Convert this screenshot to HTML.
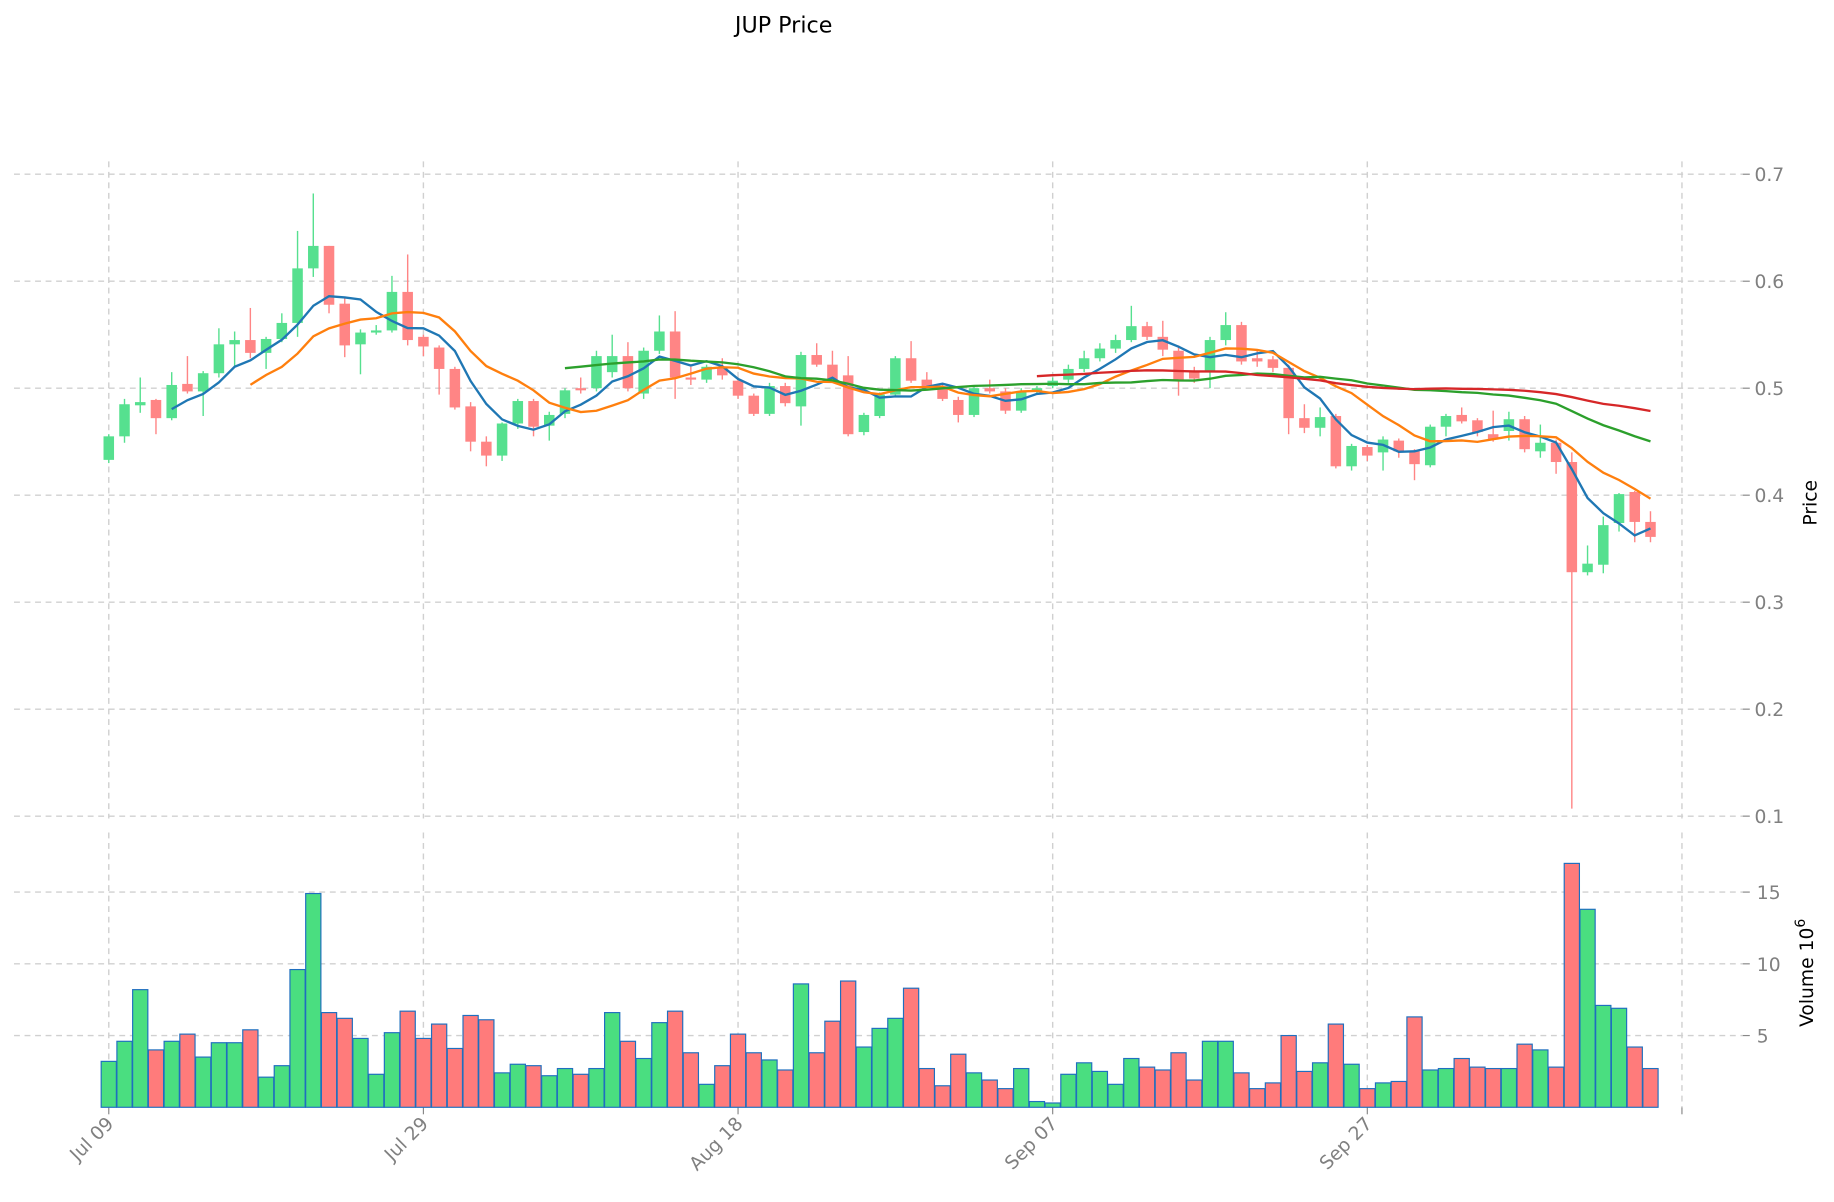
<!DOCTYPE html>
<html><head><meta charset="utf-8"><style>
html,body{margin:0;padding:0;background:#fff;width:1834px;height:1202px;overflow:hidden}
svg{display:block}
text{font-family:"DejaVu Sans","Liberation Sans",sans-serif}
</style></head><body>
<svg id="s" width="1834" height="1202" viewBox="0 0 1568 1028" preserveAspectRatio="none" xmlns="http://www.w3.org/2000/svg"></svg>
<script>
const C=[[0.433,0.455,0.457,0.43],[0.455,0.485,0.49,0.449],[0.484,0.487,0.51,0.477],[0.489,0.472,0.49,0.457],[0.472,0.503,0.515,0.47],[0.504,0.497,0.53,0.495],[0.497,0.514,0.516,0.474],[0.514,0.541,0.556,0.51],[0.541,0.545,0.553,0.52],[0.545,0.533,0.575,0.528],[0.533,0.546,0.548,0.518],[0.546,0.561,0.57,0.543],[0.561,0.612,0.647,0.548],[0.612,0.633,0.682,0.604],[0.633,0.578,0.633,0.57],[0.579,0.540,0.585,0.529],[0.541,0.552,0.555,0.513],[0.552,0.554,0.559,0.55],[0.554,0.590,0.605,0.552],[0.590,0.545,0.625,0.54],[0.548,0.539,0.55,0.53],[0.538,0.518,0.54,0.494],[0.518,0.482,0.52,0.48],[0.483,0.450,0.487,0.441],[0.450,0.437,0.455,0.427],[0.437,0.467,0.468,0.432],[0.467,0.488,0.49,0.462],[0.488,0.464,0.49,0.455],[0.465,0.475,0.478,0.451],[0.476,0.498,0.5,0.472],[0.500,0.498,0.51,0.495],[0.500,0.530,0.535,0.497],[0.515,0.530,0.55,0.51],[0.530,0.500,0.543,0.497],[0.495,0.535,0.538,0.49],[0.535,0.553,0.568,0.532],[0.553,0.510,0.572,0.49],[0.510,0.508,0.52,0.503],[0.508,0.520,0.522,0.505],[0.520,0.512,0.528,0.508],[0.507,0.493,0.51,0.49],[0.493,0.476,0.495,0.474],[0.476,0.502,0.505,0.474],[0.502,0.486,0.505,0.483],[0.483,0.531,0.534,0.465],[0.531,0.522,0.542,0.52],[0.522,0.508,0.535,0.505],[0.512,0.457,0.53,0.455],[0.459,0.475,0.477,0.456],[0.474,0.494,0.496,0.472],[0.494,0.528,0.53,0.492],[0.528,0.507,0.544,0.505],[0.508,0.502,0.515,0.5],[0.502,0.490,0.505,0.488],[0.489,0.475,0.492,0.468],[0.475,0.500,0.503,0.473],[0.500,0.497,0.508,0.495],[0.497,0.479,0.5,0.476],[0.479,0.497,0.5,0.477],[0.497,0.500,0.502,0.495],[0.502,0.507,0.51,0.5],[0.508,0.518,0.522,0.505],[0.518,0.528,0.535,0.515],[0.528,0.537,0.542,0.525],[0.537,0.545,0.55,0.533],[0.545,0.558,0.577,0.543],[0.558,0.548,0.562,0.545],[0.548,0.536,0.563,0.53],[0.535,0.507,0.54,0.493],[0.516,0.509,0.52,0.505],[0.515,0.545,0.548,0.5],[0.545,0.559,0.571,0.54],[0.559,0.525,0.562,0.522],[0.528,0.525,0.535,0.52],[0.527,0.519,0.53,0.515],[0.519,0.472,0.522,0.457],[0.472,0.463,0.485,0.458],[0.463,0.473,0.482,0.455],[0.474,0.427,0.476,0.425],[0.427,0.446,0.448,0.423],[0.445,0.437,0.447,0.432],[0.440,0.452,0.455,0.423],[0.451,0.441,0.453,0.435],[0.441,0.429,0.443,0.414],[0.428,0.464,0.466,0.426],[0.464,0.474,0.476,0.455],[0.475,0.469,0.482,0.467],[0.470,0.459,0.472,0.455],[0.457,0.452,0.479,0.45],[0.460,0.471,0.478,0.451],[0.471,0.443,0.474,0.44],[0.441,0.449,0.466,0.435],[0.449,0.431,0.452,0.42],[0.431,0.328,0.44,0.107],[0.328,0.336,0.353,0.325],[0.335,0.372,0.38,0.327],[0.374,0.401,0.402,0.366],[0.403,0.375,0.404,0.356],[0.375,0.361,0.385,0.356]];
const V=[3.2,4.6,8.2,4.0,4.6,5.1,3.5,4.5,4.5,5.4,2.1,2.9,9.6,14.9,6.6,6.2,4.8,2.3,5.2,6.7,4.8,5.8,4.1,6.4,6.1,2.4,3.0,2.9,2.2,2.7,2.3,2.7,6.6,4.6,3.4,5.9,6.7,3.8,1.6,2.9,5.1,3.8,3.3,2.6,8.6,3.8,6.0,8.8,4.2,5.5,6.2,8.3,2.7,1.5,3.7,2.4,1.9,1.3,2.7,0.4,0.3,2.3,3.1,2.5,1.6,3.4,2.8,2.6,3.8,1.9,4.6,4.6,2.4,1.3,1.7,5.0,2.5,3.1,5.8,3.0,1.3,1.7,1.8,6.3,2.6,2.7,3.4,2.8,2.7,2.7,4.4,4.0,2.8,17.0,13.8,7.1,6.9,4.2,2.7];
const X=i=>93+13.45*i, PY=p=>149+(0.7-p)*915, VY=v=>947-v*12.27;
let h='';
const grid='stroke="#d0d0d0" stroke-width="1.2" stroke-dasharray="5,4"';
h+=`<text x="670" y="28" font-size="19" text-anchor="middle" fill="#000">JUP Price</text>`;
for(let k=1;k<=7;k++){const y=PY(k/10);h+=`<line x1="12" x2="1490" y1="${y}" y2="${y}" ${grid}/><line x1="1490" x2="1496" y1="${y}" y2="${y}" stroke="#888"/><text x="1500" y="${y+6}" font-size="16" fill="#808080">${'0.'+k}</text>`;}
[5,10,15].forEach(v=>{const y=VY(v);h+=`<line x1="12" x2="1490" y1="${y}" y2="${y}" ${grid}/><line x1="1490" x2="1496" y1="${y}" y2="${y}" stroke="#888"/><text x="1502" y="${y+6}" font-size="16" fill="#808080">${v}</text>`;});
const lab=['Jul 09','Jul 29','Aug 18','Sep 07','Sep 27',''];
lab.forEach((l,k)=>{const x=93+269*k;h+=`<line x1="${x}" x2="${x}" y1="138" y2="700" ${grid}/><line x1="${x}" x2="${x}" y1="712" y2="947" ${grid}/><line x1="${x}" x2="${x}" y1="947" y2="953" stroke="#888"/>`;if(l)h+=`<text transform="translate(${x+5},962) rotate(-45)" font-size="16" fill="#808080" text-anchor="end">${l}</text>`;});
h+=`<text transform="translate(1553,430) rotate(-90)" font-size="16" text-anchor="middle">Price</text>`;
h+=`<text transform="translate(1550,832) rotate(-90)" font-size="16" text-anchor="middle">Volume  10<tspan dy="-7" font-size="12">6</tspan></text>`;
// volume
V.forEach((v,i)=>{const g=C[i][1]>=C[i][0];const y=VY(v);h+=`<rect x="${X(i)-6.5}" y="${y}" width="13" height="${947-y}" fill="${g?'#4ade80':'#ff7b7b'}" stroke="#1f6fbf" stroke-width="1"/>`;});
// candles
C.forEach((c,i)=>{const g=c[1]>=c[0];const col=g?'#56e08f':'#ff8585';const x=X(i);const t=PY(Math.max(c[0],c[1])),b=PY(Math.min(c[0],c[1]));h+=`<line x1="${x}" x2="${x}" y1="${PY(c[2])}" y2="${PY(c[3])}" stroke="${col}" stroke-width="1.2"/><rect x="${x-4.5}" y="${t}" width="9" height="${Math.max(b-t,1.5)}" fill="${col}"/>`;});
// MAs
const cl=C.map(c=>c[1]);
function ma(n,col){let p=[];for(let i=n-1;i<cl.length;i++){let s=0;for(let j=i-n+1;j<=i;j++)s+=cl[j];p.push(X(i).toFixed(1)+','+PY(s/n).toFixed(1));}h+=`<polyline points="${p.join(' ')}" fill="none" stroke="${col}" stroke-width="2"/>`;}
ma(5,'#1f77b4');ma(10,'#ff7f0e');ma(30,'#2ca02c');ma(60,'#d62728');
document.getElementById('s').innerHTML=h;
</script>
</body></html>
